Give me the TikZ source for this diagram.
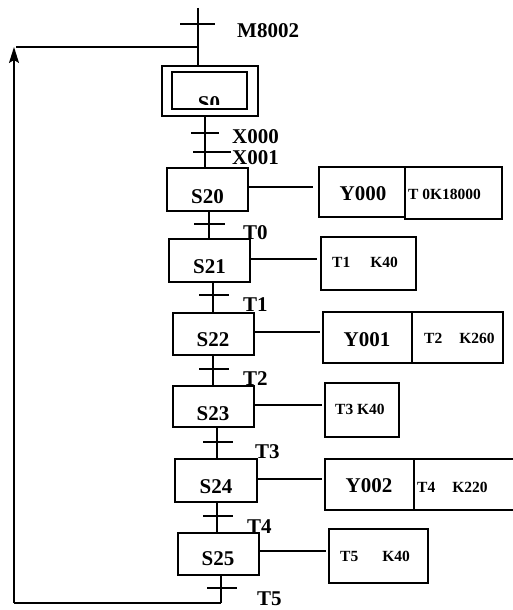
\documentclass[tikz,border=0pt]{standalone}
\usepackage{fontspec}
\setmainfont{Liberation Serif}
\usetikzlibrary{arrows.meta}
\tikzset{
  ln/.style={line width=1.4pt},
  box/.style={draw, line width=1.5pt, rectangle, inner sep=0pt, anchor=center},
  bigtxt/.style={inner sep=0pt, font=\fontsize{21}{21}\selectfont\bfseries},
  smalltxt/.style={inner sep=0pt, anchor=west, font=\fontsize{15.5}{15.5}\selectfont\bfseries},
  lbl/.style={inner sep=0pt, anchor=west, font=\fontsize{21}{21}\selectfont\bfseries},
}
\begin{document}
\begin{tikzpicture}[x=1pt,y=-1pt]
\useasboundingbox (0,0) rectangle (512,610);
% step boxes
\node[box, minimum width=96pt, minimum height=50pt] (s0) at (210,91) {};
\node[box, minimum width=75pt, minimum height=37pt] (s0i) at (209.5,90.5) {};
\begin{scope}
\clip (172,72) rectangle (247,104);
\node[bigtxt] (s0t) at (209,104) {S0};
\end{scope}
\node[box, minimum width=81pt, minimum height=43pt] (s20) at (207.5,189.5) {};
\node[box, minimum width=81pt, minimum height=43pt] (s21) at (209.5,260.5) {};
\node[box, minimum width=81pt, minimum height=42pt] (s22) at (213.5,334) {};
\node[box, minimum width=81pt, minimum height=41pt] (s23) at (213.5,406.5) {};
\node[box, minimum width=82pt, minimum height=43pt] (s24) at (216,480.5) {};
\node[box, minimum width=81pt, minimum height=42pt] (s25) at (218.5,554) {};
\node[bigtxt] (s20t) at (207.5,196.3) {S20};
\node[bigtxt] (s21t) at (209.5,266.7) {S21};
\node[bigtxt] (s22t) at (213,340) {S22};
\node[bigtxt] (s23t) at (213,413.5) {S23};
\node[bigtxt] (s24t) at (216,487) {S24};
\node[bigtxt] (s25t) at (218,559) {S25};
% action boxes
\node[box, minimum width=86pt, minimum height=50pt] (y000) at (362,192) {};
\node[box, minimum width=97pt, minimum height=52pt] (a0) at (453.5,193) {};
\node[box, minimum width=95pt, minimum height=53pt] (a1) at (368.5,263.5) {};
\node[box, minimum width=89pt, minimum height=51pt] (y001) at (367.5,337.5) {};
\node[box, minimum width=91pt, minimum height=51pt] (a2) at (457.5,337.5) {};
\node[box, minimum width=74pt, minimum height=54pt] (a3) at (362,410) {};
\node[box, minimum width=89pt, minimum height=51pt] (y002) at (369.5,484.5) {};
\node[box, minimum width=100pt, minimum height=51pt] (a4) at (464,484.5) {};
\node[box, minimum width=99pt, minimum height=54pt] (a5) at (378.5,556) {};
\node[bigtxt] (y000t) at (363,193.5) {Y000};
\node[bigtxt] (y001t) at (367,339.5) {Y001};
\node[bigtxt] (y002t) at (369,485.5) {Y002};
\node[smalltxt] (a0t) at (408,194) {T 0K18000};
\node[smalltxt] (a1t) at (332,262) {T1\hspace{20pt}K40};
\node[smalltxt] (a2t) at (424,338) {T2\hspace{17pt}K260};
\node[smalltxt] (a3t) at (335,409) {T3 K40};
\node[smalltxt] (a4t) at (417,487) {T4\hspace{17pt}K220};
\node[smalltxt] (a5t) at (340,556) {T5\hspace{24pt}K40};
% transition labels
\node[lbl] (lm) at (237,31) {M8002};
\node[lbl] (lx0) at (232,137) {X000};
\node[lbl] (lx1) at (232,158) {X001};
\node[lbl] (lt0) at (243,233) {T0};
\node[lbl] (lt1) at (243,305) {T1};
\node[lbl] (lt2) at (243,379) {T2};
\node[lbl] (lt3) at (255,452) {T3};
\node[lbl] (lt4) at (247,527) {T4};
\node[lbl] (lt5) at (257,599) {T5};
% vertical flow lines
\coordinate (top) at (198,8);
\coordinate (v0) at (205,0);
\coordinate (v1) at (209,0);
\coordinate (v2) at (213,0);
\coordinate (v3) at (217,0);
\coordinate (v4) at (221,0);
\coordinate (bot) at (221,603);
\coordinate (bl) at (14,603);
\coordinate (tl) at (14,47);
\coordinate (jn) at (198,47);
\draw[ln] (top) -- (top |- s0.north);
\draw[ln] (v0 |- s0.south) -- (v0 |- s20.north);
\draw[ln] (v1 |- s20.south) -- (v1 |- s21.north);
\draw[ln] (v2 |- s21.south) -- (v2 |- s22.north);
\draw[ln] (v2 |- s22.south) -- (v2 |- s23.north);
\draw[ln] (v3 |- s23.south) -- (v3 |- s24.north);
\draw[ln] (v3 |- s24.south) -- (v3 |- s25.north);
\draw[ln] (v4 |- s25.south) -- (bot);
% loop back
\draw[ln] (bot) -- (bl);
\draw[ln, -{Stealth[length=16pt,width=10pt,inset=3pt]}] (bl) -- (tl);
\draw[ln] (16,47) -- (jn);
% transition ticks
\draw[ln] (180,24) -- (215,24);
\draw[ln] (191,133) -- (219,133);
\draw[ln] (193,152) -- (231,152);
\draw[ln] (194,224) -- (225,224);
\draw[ln] (199,295) -- (229,295);
\draw[ln] (199,369) -- (229,369);
\draw[ln] (203,442) -- (233,442);
\draw[ln] (203,516) -- (233,516);
\draw[ln] (207,588) -- (237,588);
% connectors to actions
\draw[ln, shorten >=5pt] ([yshift=2.5pt]s20.east) -- ([yshift=2.5pt]s20.east -| y000.west);
\draw[ln, shorten >=3pt] ([yshift=1.5pt]s21.east) -- ([yshift=1.5pt]s21.east -| a1.west);
\draw[ln, shorten >=2pt] ([yshift=2pt]s22.east) -- ([yshift=2pt]s22.east -| y001.west);
\draw[ln, shorten >=2pt] ([yshift=1.5pt]s23.east) -- ([yshift=1.5pt]s23.east -| a3.west);
\draw[ln, shorten >=2pt] ([yshift=1.5pt]s24.east) -- ([yshift=1.5pt]s24.east -| y002.west);
\draw[ln, shorten >=2pt] ([yshift=3pt]s25.east) -- ([yshift=3pt]s25.east -| a5.west);
\end{tikzpicture}
\end{document}
